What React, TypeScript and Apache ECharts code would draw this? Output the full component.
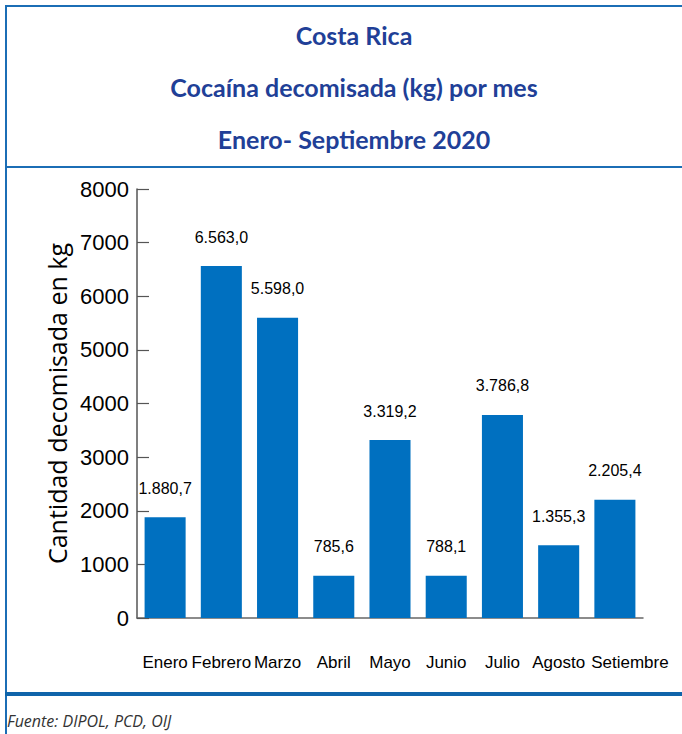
import React, { useEffect, useRef } from "react";
import * as echarts from "echarts";

const months = ["Enero", "Febrero", "Marzo", "Abril", "Mayo", "Junio", "Julio", "Agosto", "Setiembre"];
const cocaineKg = [1880.7, 6563.0, 5598.0, 785.6, 3319.2, 788.1, 3786.8, 1355.3, 2205.4];
const titleLines = ["Costa Rica", "Cocaína decomisada (kg) por mes", "Enero- Septiembre 2020"];
const yAxisName = "Cantidad decomisada en kg";
const sourceNote = "Fuente: DIPOL, PCD, OIJ";

const NUMFONT = "'Liberation Sans', Arial, sans-serif";
const BLUE_LINE = "#1b6db5";
const TITLE_COLOR = "#213f97";

function fmtEs(v: number): string {
  const fixed = v.toFixed(1);
  const [intPart, dec] = fixed.split(".");
  const withDots = intPart.replace(/\B(?=(\d{3})+(?!\d))/g, ".");
  return withDots + "," + dec;
}

export default function App() {
  const ref = useRef<HTMLDivElement>(null);
  useEffect(() => {
    if (!ref.current) return;
    const chart = echarts.init(ref.current, null, { renderer: "svg" });
    const titleTops = [17, 69, 121];
    const lastMonth = months[months.length - 1];
    chart.setOption({
      animation: false,
      backgroundColor: "#ffffff",
      title: titleLines.map((t, i) => ({
        text: t,
        left: 349,
        top: titleTops[i],
        textAlign: "center",
        textStyle: { fontFamily: "Lato, 'Open Sans', sans-serif", fontWeight: "bold", fontSize: 25, color: TITLE_COLOR },
      })),
      grid: { left: 137, right: 39, top: 189, bottom: 116, containLabel: false },
      xAxis: {
        type: "category",
        data: months,
        axisLine: { lineStyle: { color: "#666666", width: 1.5 } },
        axisTick: { inside: true, length: 9, lineStyle: { color: "#555555", width: 1.2 } },
        axisLabel: {
          interval: 0,
          margin: 36,
          fontFamily: NUMFONT,
          fontSize: 17,
          color: "#000000",
          formatter: (v: string) => (v === lastMonth ? `{shift|${v}}` : `{n|${v}}`),
          rich: {
            n: { fontFamily: NUMFONT, fontSize: 17, color: "#000000" },
            shift: { fontFamily: NUMFONT, fontSize: 17, color: "#000000", padding: [0, 0, 0, 30] },
          },
        },
      },
      yAxis: {
        type: "value",
        min: 0,
        max: 8000,
        interval: 1000,
        name: yAxisName,
        nameLocation: "middle",
        nameRotate: 90,
        nameGap: 56,
        nameTextStyle: { fontFamily: "'Open Sans', 'Noto Sans', sans-serif", fontSize: 25, color: "#000000" },
        axisLine: { show: true, lineStyle: { color: "#555555", width: 1.5 } },
        axisTick: { show: true, inside: true, length: 12, lineStyle: { color: "#555555", width: 1.2 } },
        axisLabel: {
          margin: 8,
          fontFamily: NUMFONT,
          fontSize: 22,
          color: "#000000",
          formatter: (v: number) => String(v),
        },
        splitLine: { show: false },
      },
      series: [
        {
          type: "bar",
          data: cocaineKg,
          barWidth: "73%",
          itemStyle: { color: "#0070c0" },
          label: {
            show: true,
            position: "top",
            distance: 21,
            fontFamily: NUMFONT,
            fontSize: 16,
            color: "#000000",
            formatter: (p: any) => fmtEs(p.value),
          },
        },
      ],
      graphic: [
        { type: "line", shape: { x1: 6, y1: 5, x2: 6, y2: 734 }, style: { stroke: BLUE_LINE, lineWidth: 2 } },
        { type: "line", shape: { x1: 5, y1: 6, x2: 682, y2: 6 }, style: { stroke: BLUE_LINE, lineWidth: 2 } },
        { type: "line", shape: { x1: 5, y1: 167, x2: 682, y2: 167 }, style: { stroke: BLUE_LINE, lineWidth: 2 } },
        { type: "line", shape: { x1: 5, y1: 694, x2: 682, y2: 694 }, style: { stroke: "#0f64aa", lineWidth: 4 } },
        {
          type: "text",
          left: 7,
          top: 713,
          style: {
            text: sourceNote,
            fontFamily: "'Open Sans', 'Noto Sans', sans-serif",
            fontStyle: "italic",
            fontSize: 16,
            fill: "#333333",
          },
        },
      ],
    });
    return () => chart.dispose();
  }, []);
  return (
    <div
      ref={ref}
      style={{ position: "fixed", left: 0, top: 0, width: 682, height: 734 }}
    />
  );
}
